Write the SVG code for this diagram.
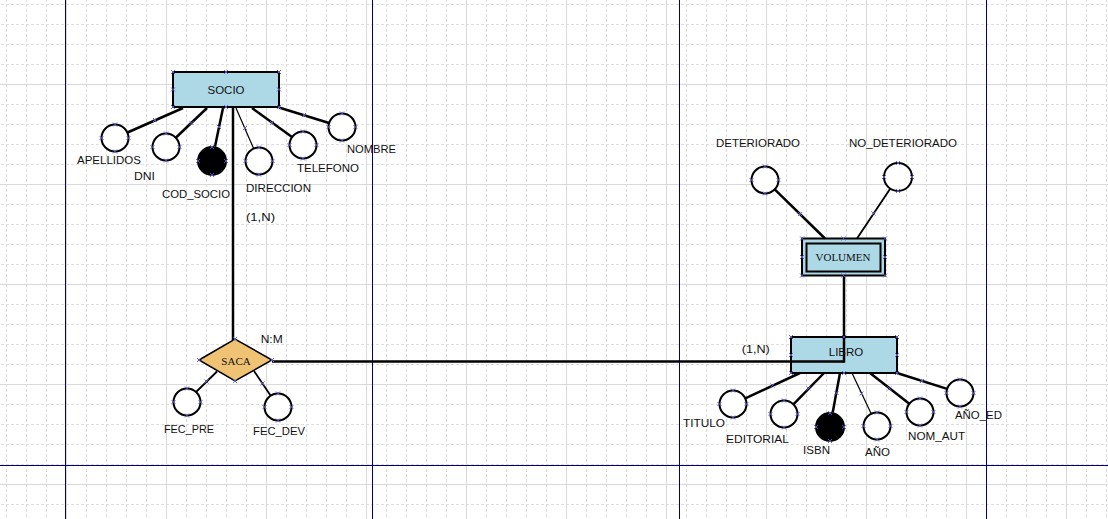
<svg xmlns="http://www.w3.org/2000/svg" xmlns:xlink="http://www.w3.org/1999/xlink" width="1108" height="519" viewBox="0 0 1108 519">
<style>
.ent{fill:#add8e6;stroke:#000;stroke-width:2}
.att{fill:#fff;stroke:#000;stroke-width:2}
.key{fill:#000;stroke:#000;stroke-width:2}
.rel{fill:#efc274;stroke:#000;stroke-width:1.5}
.lbl{font-family:"Liberation Sans","DejaVu Sans",sans-serif;font-size:11px;fill:#111}
.etx{font-family:"Liberation Sans","DejaVu Sans",sans-serif;font-size:11.5px;fill:#111;text-anchor:middle}
.stx{font-family:"Liberation Serif","DejaVu Serif",serif;font-size:11px;fill:#111;text-anchor:middle}
.ln{stroke:#000;stroke-width:2.5;fill:none}
.mid{stroke:#000;stroke-width:1.8;fill:none}
.thin{stroke:#000;stroke-width:1.2;fill:none}
.page{stroke:#00007a;stroke-width:1}
</style>
<defs>
<pattern id="grid" x="66" y="84" width="100" height="100" patternUnits="userSpaceOnUse">
<path d="M0.5 0V100M0 0.5H100" stroke="#d9d9d9" stroke-width="1" fill="none"/>
<path d="M20.5 0V100M40.5 0V100M60.5 0V100M80.5 0V100M0 20.5H100M0 40.5H100M0 60.5H100M0 80.5H100" stroke="#dedede" stroke-width="1" stroke-dasharray="3 2" fill="none"/>
</pattern>
<path id="x" d="M-2 -2L2 2M-2 2L2 -2" stroke="#5a5ad2" stroke-width="0.9" fill="none"/>
</defs>
<rect width="1108" height="519" fill="#fff"/>
<rect width="1108" height="519" fill="url(#grid)"/>
<g id="pages">
<path class="page" d="M65.5 0V519M372.5 0V519M679.5 0V519M986.5 0V519M0 465.5H1108"/>
</g>

<g id="socio">
<rect class="ent" x="173" y="72" width="106" height="35"/>
<text class="etx" x="226" y="93.5">SOCIO</text>
</g>
<g id="apellidos"><circle class="att" cx="115" cy="138" r="13.5"/><text class="lbl" x="77" y="164" textLength="64" lengthAdjust="spacingAndGlyphs">APELLIDOS</text></g>
<g id="dni"><circle class="att" cx="166" cy="147" r="13.5"/><text class="lbl" x="134" y="180" textLength="21" lengthAdjust="spacingAndGlyphs">DNI</text></g>
<g id="cod_socio"><circle class="key" cx="212" cy="161" r="14"/><text class="lbl" x="162" y="198" textLength="68" lengthAdjust="spacingAndGlyphs">COD_SOCIO</text></g>
<g id="direccion"><circle class="att" cx="259" cy="161" r="13.5"/><text class="lbl" x="246" y="192" textLength="65" lengthAdjust="spacingAndGlyphs">DIRECCION</text></g>
<g id="telefono"><circle class="att" cx="303" cy="145" r="13.5"/><text class="lbl" x="297" y="172" textLength="62" lengthAdjust="spacingAndGlyphs">TELEFONO</text></g>
<g id="nombre"><circle class="att" cx="342" cy="127" r="13.5"/><text class="lbl" x="347" y="152.5" textLength="49" lengthAdjust="spacingAndGlyphs">NOMBRE</text></g>

<g id="saca">
<polygon class="rel" points="199,360 235,339 272,360 235,381"/>
<text class="stx" x="236" y="365">SACA</text>
</g>
<g id="fec_pre"><circle class="att" cx="187" cy="402" r="13.5"/><text class="lbl" x="164" y="433" textLength="50" lengthAdjust="spacingAndGlyphs">FEC_PRE</text></g>
<g id="fec_dev"><circle class="att" cx="278" cy="407" r="13.5"/><text class="lbl" x="253" y="435" textLength="52" lengthAdjust="spacingAndGlyphs">FEC_DEV</text></g>

<g id="volumen">
<rect class="ent" x="802" y="238.5" width="83" height="37"/>
<rect fill="none" stroke="#000" stroke-width="2" x="806.5" y="243.5" width="74" height="28"/>
<text class="stx" x="843" y="261">VOLUMEN</text>
</g>
<g id="deteriorado"><circle class="att" cx="765" cy="180" r="13.5"/><text class="lbl" x="716" y="147" textLength="84" lengthAdjust="spacingAndGlyphs">DETERIORADO</text></g>
<g id="no_deteriorado"><circle class="att" cx="898" cy="177" r="14"/><text class="lbl" x="849" y="147" textLength="108" lengthAdjust="spacingAndGlyphs">NO_DETERIORADO</text></g>

<g id="libro">
<rect class="ent" x="791" y="337" width="106" height="36"/>
<text class="etx" x="846" y="356">LIBRO</text>
</g>
<g id="titulo"><circle class="att" cx="733" cy="404" r="13.5"/><text class="lbl" x="683" y="426.5" textLength="42" lengthAdjust="spacingAndGlyphs">TITULO</text></g>
<g id="editorial"><circle class="att" cx="784" cy="414" r="13.5"/><text class="lbl" x="726" y="443" textLength="63" lengthAdjust="spacingAndGlyphs">EDITORIAL</text></g>
<g id="isbn"><circle class="key" cx="830" cy="427" r="14"/><text class="lbl" x="803" y="454" textLength="27" lengthAdjust="spacingAndGlyphs">ISBN</text></g>
<g id="anio"><circle class="att" cx="877" cy="426" r="13.5"/><text class="lbl" x="865" y="456" textLength="25" lengthAdjust="spacingAndGlyphs">AÑO</text></g>
<g id="nom_aut"><circle class="att" cx="920" cy="412" r="13.5"/><text class="lbl" x="908" y="440" textLength="57" lengthAdjust="spacingAndGlyphs">NOM_AUT</text></g>
<g id="anio_ed"><circle class="att" cx="960" cy="393" r="13.5"/><text class="lbl" x="955" y="419" textLength="47" lengthAdjust="spacingAndGlyphs">AÑO_ED</text></g>

<g id="connectors">
<line class="ln" x1="127.5" y1="132.5" x2="183" y2="108"/>
<line class="ln" x1="176" y1="137.5" x2="207" y2="108"/>
<line class="ln" x1="215" y1="146.5" x2="223" y2="108"/>
<line class="thin" x1="253.6" y1="148.6" x2="236" y2="108"/>
<line class="ln" x1="292" y1="137" x2="252" y2="108"/>
<line class="ln" x1="329" y1="123" x2="279" y2="107.5"/>
<line class="ln" x1="233" y1="107" x2="233" y2="340"/>
<line class="mid" x1="196" y1="392" x2="217" y2="371.5"/>
<line class="mid" x1="270.7" y1="395.7" x2="254" y2="371"/>
<line class="ln" x1="272" y1="361.5" x2="844" y2="361.5"/>
<line class="ln" x1="844" y1="276" x2="844" y2="362.7"/>
<line class="ln" x1="774.7" y1="189.4" x2="825" y2="238.5"/>
<line class="mid" x1="890.5" y1="188.2" x2="857" y2="238.5"/>
<line class="ln" x1="745.3" y1="398.3" x2="800" y2="373"/>
<line class="ln" x1="793.4" y1="404.3" x2="824" y2="373"/>
<line class="ln" x1="832.7" y1="412.5" x2="840" y2="373"/>
<line class="thin" x1="871.2" y1="413.8" x2="852" y2="373"/>
<line class="ln" x1="909.3" y1="403.7" x2="870" y2="373"/>
<line class="ln" x1="947.1" y1="388.9" x2="897" y2="373"/>
<text class="lbl" x="246" y="221" textLength="29" lengthAdjust="spacingAndGlyphs">(1,N)</text>
<text class="lbl" x="260.7" y="342.7" textLength="22" lengthAdjust="spacingAndGlyphs">N:M</text>
<text class="lbl" x="741.7" y="353" textLength="28" lengthAdjust="spacingAndGlyphs">(1,N)</text>
</g>

<g id="handles">
<use xlink:href="#x" x="173" y="72"/><use xlink:href="#x" x="226" y="72"/><use xlink:href="#x" x="279" y="72"/><use xlink:href="#x" x="173" y="89.5"/><use xlink:href="#x" x="279" y="89.5"/><use xlink:href="#x" x="173" y="107"/><use xlink:href="#x" x="226" y="107"/><use xlink:href="#x" x="279" y="107"/>
<use xlink:href="#x" x="791" y="337"/><use xlink:href="#x" x="844" y="337"/><use xlink:href="#x" x="897" y="337"/><use xlink:href="#x" x="791" y="355"/><use xlink:href="#x" x="897" y="355"/><use xlink:href="#x" x="791" y="373"/><use xlink:href="#x" x="844" y="373"/><use xlink:href="#x" x="897" y="373"/>
<use xlink:href="#x" x="802" y="238.5"/><use xlink:href="#x" x="843.5" y="238.5"/><use xlink:href="#x" x="885" y="238.5"/><use xlink:href="#x" x="802" y="257"/><use xlink:href="#x" x="885" y="257"/><use xlink:href="#x" x="802" y="275.5"/><use xlink:href="#x" x="843.5" y="275.5"/><use xlink:href="#x" x="885" y="275.5"/>
<use xlink:href="#x" x="199" y="360"/><use xlink:href="#x" x="235" y="339"/><use xlink:href="#x" x="272" y="360"/><use xlink:href="#x" x="235" y="381"/>
<use xlink:href="#x" x="115" y="124.5"/><use xlink:href="#x" x="101.5" y="138"/><use xlink:href="#x" x="128.5" y="138"/><use xlink:href="#x" x="115" y="151.5"/>
<use xlink:href="#x" x="166" y="133.5"/><use xlink:href="#x" x="152.5" y="147"/><use xlink:href="#x" x="179.5" y="147"/><use xlink:href="#x" x="166" y="160.5"/>
<use xlink:href="#x" x="212" y="147"/><use xlink:href="#x" x="198" y="161"/><use xlink:href="#x" x="226" y="161"/><use xlink:href="#x" x="212" y="175"/>
<use xlink:href="#x" x="259" y="147.5"/><use xlink:href="#x" x="245.5" y="161"/><use xlink:href="#x" x="272.5" y="161"/><use xlink:href="#x" x="259" y="174.5"/>
<use xlink:href="#x" x="303" y="131.5"/><use xlink:href="#x" x="289.5" y="145"/><use xlink:href="#x" x="316.5" y="145"/><use xlink:href="#x" x="303" y="158.5"/>
<use xlink:href="#x" x="342" y="113.5"/><use xlink:href="#x" x="328.5" y="127"/><use xlink:href="#x" x="355.5" y="127"/><use xlink:href="#x" x="342" y="140.5"/>
<use xlink:href="#x" x="187" y="388.5"/><use xlink:href="#x" x="173.5" y="402"/><use xlink:href="#x" x="200.5" y="402"/><use xlink:href="#x" x="187" y="415.5"/>
<use xlink:href="#x" x="278" y="393.5"/><use xlink:href="#x" x="264.5" y="407"/><use xlink:href="#x" x="291.5" y="407"/><use xlink:href="#x" x="278" y="420.5"/>
<use xlink:href="#x" x="765" y="166.5"/><use xlink:href="#x" x="751.5" y="180"/><use xlink:href="#x" x="778.5" y="180"/><use xlink:href="#x" x="765" y="193.5"/>
<use xlink:href="#x" x="898" y="163"/><use xlink:href="#x" x="884" y="177"/><use xlink:href="#x" x="912" y="177"/><use xlink:href="#x" x="898" y="191"/>
<use xlink:href="#x" x="733" y="390.5"/><use xlink:href="#x" x="719.5" y="404"/><use xlink:href="#x" x="746.5" y="404"/><use xlink:href="#x" x="733" y="417.5"/>
<use xlink:href="#x" x="784" y="400.5"/><use xlink:href="#x" x="770.5" y="414"/><use xlink:href="#x" x="797.5" y="414"/><use xlink:href="#x" x="784" y="427.5"/>
<use xlink:href="#x" x="830" y="413"/><use xlink:href="#x" x="816" y="427"/><use xlink:href="#x" x="844" y="427"/><use xlink:href="#x" x="830" y="441"/>
<use xlink:href="#x" x="877" y="412.5"/><use xlink:href="#x" x="863.5" y="426"/><use xlink:href="#x" x="890.5" y="426"/><use xlink:href="#x" x="877" y="439.5"/>
<use xlink:href="#x" x="920" y="398.5"/><use xlink:href="#x" x="906.5" y="412"/><use xlink:href="#x" x="933.5" y="412"/><use xlink:href="#x" x="920" y="425.5"/>
<use xlink:href="#x" x="960" y="379.5"/><use xlink:href="#x" x="946.5" y="393"/><use xlink:href="#x" x="973.5" y="393"/><use xlink:href="#x" x="960" y="406.5"/>
<use xlink:href="#x" x="155" y="120"/><use xlink:href="#x" x="191.5" y="123"/><use xlink:href="#x" x="219" y="127"/><use xlink:href="#x" x="245" y="128"/><use xlink:href="#x" x="272" y="123"/><use xlink:href="#x" x="304" y="115"/>
<use xlink:href="#x" x="206.5" y="381.5"/><use xlink:href="#x" x="262.5" y="383.5"/>
<use xlink:href="#x" x="800" y="214"/><use xlink:href="#x" x="873.5" y="213.5"/>
<use xlink:href="#x" x="772.5" y="385.5"/><use xlink:href="#x" x="808.5" y="388.5"/><use xlink:href="#x" x="836.5" y="393"/><use xlink:href="#x" x="861.5" y="393.5"/><use xlink:href="#x" x="889.5" y="388.5"/><use xlink:href="#x" x="922" y="381"/>
</g>
</svg>
